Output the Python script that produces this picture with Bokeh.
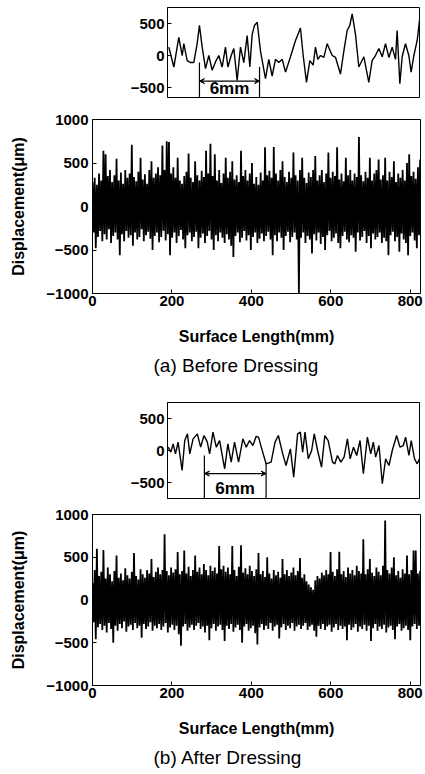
from bokeh.plotting import figure
from bokeh.layouts import column
from bokeh.models import FixedTicker, Range1d, Title, Arrow, VeeHead
from bokeh.embed import file_html
from bokeh.resources import INLINE
from bokeh.core.properties import value

FONT = "Liberation Sans"
W = 425

# ---------------- data ----------------
# main traces: sample step (mm) and per-sample upper / lower excursions (um)
STEP_MM = 5.5
before_upper = [280, 330, 250, 380, 300, 640, 600, 350, 420, 280, 360, 550, 300, 390, 260, 420, 330, 380, 710, 340,
                290, 400, 560, 310, 370, 260, 420, 520, 330, 380, 450, 360, 700, 420, 750, 740, 380, 450, 330, 560,
                300, 260, 350, 400, 610, 330, 280, 520, 360, 300, 410, 340, 640, 380, 720, 350, 600, 300, 420, 270,
                380, 560, 330, 400, 520, 310, 360, 280, 640, 350, 420, 300, 380, 500, 260, 340, 250, 390, 300, 680,
                360, 410, 330, 685, 380, 300, 420, 520, 340, 280, 400, 330, 620, 360, 300, 420, 560, 330, 270, 390,
                340, 420, 580, 300, 360, 420, 280, 380, 620, 330, 400, 350, 680, 310, 380, 290, 560, 360, 420, 300,
                380, 340, 800, 360, 290, 400, 330, 560, 300, 380, 420, 540, 310, 360, 560, 300, 400, 340, 520, 280,
                380, 330, 420, 300, 500, 600, 350, 400, 320, 450, 540]
before_lower = [-300, -480, -350, -280, -400, -320, -380, -260, -420, -340, -300, -380, -560, -320, -400, -280, -360, -330, -450, -300,
                -380, -350, -260, -400, -330, -290, -370, -500, -340, -300, -410, -350, -280, -390, -320, -560, -360, -300, -420, -340,
                -270, -380, -480, -330, -300, -400, -350, -290, -480, -360, -310, -420, -340, -280, -380, -500, -330, -400, -300, -360,
                -420, -320, -380, -450, -580, -340, -300, -410, -360, -280, -390, -330, -500, -350, -300, -420, -370, -310, -400, -340,
                -290, -380, -560, -330, -400, -300, -360, -500, -340, -290, -410, -350, -300, -380, -1000, -360, -300, -420, -340, -380,
                -540, -320, -390, -300, -430, -350, -500, -330, -280, -400, -360, -310, -420, -480, -340, -290, -380, -410, -330, -360,
                -520, -300, -390, -350, -280, -420, -340, -480, -310, -380, -350, -300, -420, -360, -400, -560, -330, -290, -400, -350,
                -520, -310, -380, -420, -560, -340, -300, -390, -480, -330, -360]
after_upper = [200, 350, 600, 280, 330, 585, 250, 380, 300, 220, 340, 520, 260, 310, 230, 370, 290, 250, 330, 550,
               280, 240, 360, 300, 260, 350, 310, 480, 270, 330, 380, 300, 350, 770, 340, 290, 380, 320, 360, 560,
               300, 340, 580, 310, 390, 280, 350, 520, 330, 380, 300, 420, 350, 290, 400, 340, 380, 310, 630, 360,
               400, 330, 380, 300, 630, 350, 280, 390, 640, 320, 370, 300, 400, 340, 280, 360, 550, 300, 340, 270,
               500, 310, 250, 350, 290, 330, 260, 480, 300, 350, 280, 320, 380, 290, 340, 490, 260, 300, 220, 180,
               150, 120, 230, 280, 250, 320, 290, 350, 300, 560, 330, 280, 360, 565, 300, 340, 270, 380, 310, 350,
               290, 400, 340, 310, 710, 300, 360, 480, 320, 280, 380, 330, 290, 400, 930, 350, 310, 380, 500, 290,
               340, 260, 360, 310, 520, 300, 350, 580, 580, 310, 340]
after_lower = [-260, -460, -320, -280, -350, -300, -380, -270, -340, -500, -300, -360, -280, -330, -250, -370, -310, -290, -350, -270,
               -330, -300, -440, -280, -340, -310, -260, -360, -300, -330, -280, -350, -310, -270, -380, -320, -290, -350, -300, -400,
               -535, -310, -280, -360, -320, -290, -350, -300, -270, -340, -310, -380, -300, -470, -330, -280, -360, -310, -290, -350,
               -480, -300, -340, -280, -370, -320, -290, -350, -500, -310, -280, -360, -330, -300, -390, -520, -320, -280, -350, -300,
               -340, -270, -360, -310, -290, -450, -320, -280, -350, -300, -330, -270, -360, -310, -290, -340, -300, -270, -350, -310,
               -290, -360, -430, -300, -340, -280, -350, -310, -290, -370, -320, -280, -350, -300, -340, -310, -470, -290, -350, -320,
               -280, -370, -310, -340, -290, -360, -300, -480, -330, -280, -360, -310, -340, -290, -380, -320, -300, -350, -460, -310,
               -280, -360, -330, -300, -350, -470, -310, -280, -340, -300, -330]

# insets: 25 mm windows
inset_a_x = [0.13, 0.63, 1.12, 1.46, 1.62, 1.95, 2.28, 2.61, 2.94, 3.17, 3.44, 3.77, 4.10, 4.43, 4.76, 5.09, 5.42, 5.75,
             5.99, 6.32, 6.58, 6.91, 7.24, 7.57, 7.90, 8.17, 8.40, 8.63, 8.90, 9.23, 9.72, 10.05, 10.38, 10.71, 11.04,
             11.38, 11.71, 12.20, 12.70, 13.19, 13.46, 13.79, 14.12, 14.45, 14.68, 14.91, 15.18, 15.51, 15.84, 16.34,
             16.67, 17.16, 17.49, 17.82, 18.09, 18.32, 18.65, 18.98, 19.48, 19.97, 20.30, 20.63, 20.97, 21.30, 21.63,
             21.96, 22.29, 22.62, 22.78, 23.05, 23.28, 23.61, 23.94, 24.17, 24.44, 24.77, 25.0]
inset_a_y = [130, -180, 285, 0, 185, -80, -110, -110, 185, 470, 130, -205, 0, -230, -100, 0, -180, 130,
             -180, 0, 110, -390, 130, -110, 310, -180, 330, 470, 520, 65, -360, -60, -320, -60, -110,
             -60, -260, -20, 235, 430, 0, -420, -80, -150, 130, -60, 0, -30, 185, 0,
             -30, -290, 65, 390, 470, 650, 330, -180, -20, -420, -80, 0, 110, -20, 185,
             -30, 130, -60, 390, -440, -20, 185, 0, -260, 0, 235, 550]
inset_b_x = [0.07, 0.33, 0.56, 0.79, 1.05, 1.45, 1.71, 1.98, 2.21, 2.54, 2.96, 3.29, 3.62, 3.95, 4.18, 4.51, 4.84,
             5.17, 5.67, 5.99, 6.32, 6.65, 7.05, 7.48, 7.81, 8.14, 8.47, 8.79, 9.03, 9.35, 9.78, 10.28, 10.67,
             11.00, 11.43, 11.76, 12.19, 12.52, 12.91, 13.18, 13.41, 13.64, 13.97, 14.30, 14.56, 14.89, 15.28,
             15.61, 15.94, 16.37, 16.60, 16.86, 17.19, 17.52, 17.85, 18.12, 18.45, 18.77, 19.10, 19.43, 19.83,
             20.16, 20.42, 20.65, 20.98, 21.31, 21.64, 21.97, 22.30, 22.73, 23.06, 23.39, 23.62, 23.95, 24.18,
             24.51, 24.77, 25.0]
inset_b_y = [52, -26, 104, -52, 130, -312, 156, 260, -52, 182, 260, 52, 234, 130, -52, 286, 52,
             156, -286, 104, -182, 130, -182, 182, 52, 156, 78, 218, 208, 26, -208, -182, 130,
             234, -52, -234, 26, -416, 260, 286, -26, 286, -130, 0, 260, 0, -260,
             234, 156, -182, -208, -78, -182, -104, 182, -130, 52, -78, 156, -364, 208,
             -52, 130, -104, 78, -520, -130, -234, 0, 234, 52, 78, 208, -78, 156,
             -130, -208, -130]

main_x_ticks = [0, 200, 400, 600, 800]
main_y_ticks = [-1000, -500, 0, 500, 1000]
inset_y_ticks = [-500, 0, 500]


def style(p):
    p.grid.visible = False
    p.outline_line_color = "black"
    p.outline_line_alpha = 1
    p.outline_line_width = 1
    p.background_fill_color = "white"
    p.border_fill_color = "white"
    for ax in p.axis:
        ax.major_tick_in = 4
        ax.major_tick_out = 0
        ax.minor_tick_in = 0
        ax.minor_tick_out = 0
        ax.axis_line_color = "black"
        ax.major_tick_line_color = "black"
        ax.major_label_text_font = FONT
        ax.major_label_text_font_style = "bold"
        ax.major_label_text_font_size = "15px"
        ax.major_label_text_color = "black"
        ax.axis_label_text_font = FONT
        ax.axis_label_text_font_style = "bold"
        ax.axis_label_text_font_size = "16px"
        ax.axis_label_text_color = "black"


def inset(xs, ys, yr, top, bottom, height, bar, text_pos):
    p = figure(width=W, height=height, x_range=Range1d(0, 25), y_range=Range1d(*yr),
               output_backend="svg", toolbar_location=None, frame_align=False,
               min_border_left=167, min_border_right=6, min_border_top=top, min_border_bottom=bottom)
    p.xaxis.visible = False
    p.yaxis.ticker = FixedTicker(ticks=inset_y_ticks)
    style(p)
    p.yaxis.major_label_standoff = 3
    p.line(xs, ys, line_color="black", line_width=1.4)
    x0, x1, ytop0, ytop1, ybar = bar
    p.segment(x0=[x0, x1], y0=[ytop0, ytop1], x1=[x0, x1], y1=[yr[0], yr[0]],
              line_color="black", line_width=1.2)
    p.add_layout(Arrow(x_start=x0, y_start=ybar, x_end=x1, y_end=ybar, line_width=1.2,
                       start=VeeHead(size=5, line_width=1), end=VeeHead(size=5, line_width=1)))
    p.text(x=[text_pos[0]], y=[text_pos[1]], text=["6mm"], text_align="center", text_baseline="middle",
           text_font=value(FONT), text_font_size="17px", text_font_style="bold", text_color="black")
    return p


def main(upper, lower, caption, top, bottom, height):
    xs, ys = [], []
    for i, (u, l) in enumerate(zip(upper, lower)):
        xs += [i * STEP_MM, i * STEP_MM + STEP_MM / 2]
        ys += [u, l]
    p = figure(width=W, height=height, x_range=Range1d(0, 826), y_range=Range1d(-1000, 1000),
               output_backend="svg", toolbar_location=None, frame_align=False,
               min_border_left=92, min_border_right=5, min_border_top=top, min_border_bottom=bottom)
    p.xaxis.ticker = FixedTicker(ticks=main_x_ticks)
    p.yaxis.ticker = FixedTicker(ticks=main_y_ticks)
    p.xaxis.axis_label = "Surface Length(mm)"
    p.yaxis.axis_label = "Displacement(\u03bcm)"
    style(p)
    p.xaxis.major_label_standoff = 2
    p.yaxis.major_label_standoff = 4
    p.xaxis.axis_label_standoff = 19
    p.yaxis.axis_label_standoff = 16
    p.line(xs, ys, line_color="black", line_width=1.8)
    p.add_layout(Title(text=caption, align="left", offset=61, text_font=FONT, text_font_size="19px",
                       text_font_style="normal", text_color="black", standoff=11), "below")
    return p


f1 = inset(inset_a_x, inset_a_y, (-656, 750), 7, 11, 108, (3.17, 9.13, -110, -180, -400), (6.15, -515))
f2 = main(before_upper, before_lower, "(a) Before Dressing", 11, 102, 287)
f3 = inset(inset_b_x, inset_b_y, (-750, 750), 7, 7, 110, (3.66, 9.78, -80, -190, -360), (6.7, -594))
f4 = main(after_upper, after_lower, "(b) After Dressing", 9, 86, 268)

layout = column(f1, f2, f3, f4, spacing=0)
open("out.html", "w").write(file_html(layout, INLINE))
